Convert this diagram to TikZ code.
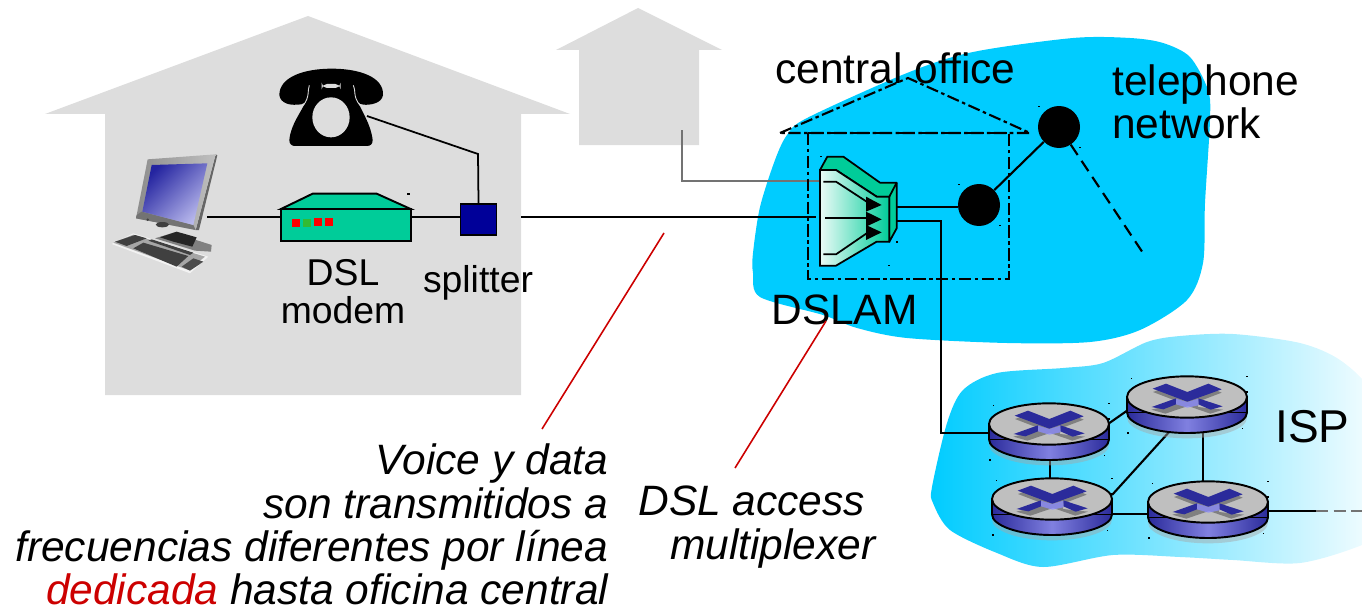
\documentclass[tikz,border=0pt]{standalone}
\usepackage{fontspec}
\setmainfont{Liberation Sans}
\definecolor{cloudblue}{HTML}{00CCFF}
\definecolor{housegray}{HTML}{DDDDDD}
\definecolor{devgreen}{HTML}{00CC99}
\definecolor{redline}{HTML}{CC0000}
\definecolor{splitblue}{HTML}{000099}
\definecolor{xblue}{HTML}{2B2B9B}
\definecolor{xlight}{HTML}{8080E0}
\definecolor{scrdark}{HTML}{2424A0}
\definecolor{scrlight}{HTML}{B8B8EC}
\definecolor{ledgreen}{HTML}{33BB33}
\tikzset{
  x=0.02cm,y=-0.02cm,
  wire/.style={line width=1.2pt,black},
  thinwire/.style={line width=1pt,black},
  dashdot/.style={line width=1.2pt,dash pattern=on 7pt off 2pt on 2pt off 2pt},
  callout/.style={line width=.9pt,redline},
  bigtext/.style={font=\fontsize{24.18}{24.7}\selectfont,inner sep=0pt},
  midtext/.style={font=\fontsize{21.25}{21.4}\selectfont,inner sep=0pt,align=center},
  office/.style={circle,fill=black,minimum size=.84cm,inner sep=0pt},
  router/.pic={
    \begin{scope}[scale=1/3]
      \fill[black!35,opacity=.45] (0,62) ellipse [x radius=180,y radius=62];
      \shade[left color=xblue,right color=xblue,middle color=xlight]
        (-180,0) -- (-180,46) .. controls (-180,80) and (-99,108) .. (0,108)
        .. controls (99,108) and (180,80) .. (180,46) -- (180,0) -- cycle;
      \draw[line width=1.1pt]
        (-180,0) -- (-180,46) .. controls (-180,80) and (-99,108) .. (0,108)
        .. controls (99,108) and (180,80) .. (180,46) -- (180,0);
      \draw[line width=.7pt] (-180,46) -- (180,46);
      \fill[draw=black,line width=1.1pt,fill=black!25] (0,0) ellipse [x radius=180,y radius=62];
      \fill[black!50] (-102,-15) -- (-62,-30) -- (1,-5) -- (64,-30) -- (104,-13) -- (33,14) -- (33,30) -- (108,38) -- (70,50) -- (3,27) -- (-65,50) -- (-107,38) -- (-32,20) -- (-32,12) -- cycle;
      \fill[xblue] (-103,-25) -- (-63,-40) -- (1,-15) -- (64,-40) -- (104,-23) -- (1,14) -- cycle;
      \fill[xblue] (34,4) -- (107,28) -- (71,38) -- (34,22) -- cycle;
      \fill[xblue] (-33,4) -- (-106,30) -- (-71,37) -- (-33,22) -- cycle;
      \fill[blue!45!white,opacity=.75] (-33,5) -- (1,15) -- (34,5) -- (34,25) -- (1,32) -- (-33,22) -- cycle;
      \foreach \dx/\dy in {-167/-55,180/-62,180/-15,-177/58,-177/108,166/95}
        \fill (\dx-2,\dy-2) rectangle (\dx+2,\dy+2);
    \end{scope}
  }
}
\begin{document}
\begin{tikzpicture}
\useasboundingbox (0,0) rectangle (1362,608);
\clip (0,0) rectangle (1362,608);
% clouds
\fill[cloudblue] plot[smooth cycle,tension=.5] coordinates {(753,253) (760,207) (775,160) (787,135) (807,118) (907,73) (973,52) (1073,38) (1130,38) (1163,43) (1190,57) (1208,90) (1210,120) (1205,203) (1203,263) (1187,300) (1140,330) (1090,342) (1007,343) (907,338) (857,328) (823,315) (760,297) (753,273)};
\shade[left color=cloudblue,right color=white] plot[smooth cycle,tension=.5] coordinates {(932,487) (947,423) (963,390) (997,373) (1063,368) (1103,363) (1147,342) (1180,336) (1233,334) (1300,343) (1340,360) (1372,392) (1392,450) (1392,525) (1362,545) (1300,563) (1233,560) (1180,557) (1113,555) (1043,567) (997,553) (950,530) (933,503)};
% houses
\fill[housegray] (45,114) -- (308,16) -- (570,114) -- (521,114) -- (521,395) -- (105,395) -- (105,114) -- cycle;
\fill[housegray] (556,50) -- (638,8) -- (722,50) -- (699,50) -- (699,145) -- (579,145) -- (579,50) -- cycle;
% named points
\coordinate (pcport) at (207,217);
\coordinate (phoneport) at (367,116);
\coordinate (bend) at (478,154);
\coordinate (lineout) at (521,217);
\coordinate (dslamin) at (816,217);
\coordinate (greytop) at (682,130);
\coordinate (greyend) at (822,181);
\coordinate (dslamA) at (897,207);
\coordinate (dslamB) at (897,221);
\coordinate (r1) at (1049,424);
\coordinate (r2) at (1187,397);
\coordinate (r3) at (1052,499);
\coordinate (r4) at (1208,502);
\coordinate (r1in) at (1000,433);
\coordinate (dashend) at (1143,253);
\coordinate (ispout) at (1316,511);
\coordinate (ispend) at (1362,511);
% devices in the house
\node[draw=black,line width=1.1pt,fill=splitblue,minimum width=.72cm,minimum height=.62cm,inner sep=0pt] (splitter) at (478.5,219.5) {};
\node[draw=black,line width=1.1pt,fill=devgreen,minimum width=2.6cm,minimum height=.63cm,inner sep=0pt] (modem) at (346,225) {};
\node[office] (co1) at (979,205) {};
\node[office] (co2) at (1059,127) {};
\begin{scope}[shift={(100,60)},scale=1/3]
  % modem top and lights
  \fill[devgreen,draw=black,line width=1.1pt] (543,447) -- (638,401) -- (830,401) -- (932,447) -- cycle;
  \fill[red] (577,477) rectangle (600,500);
  \fill[ledgreen] (610,477) rectangle (634,500);
  \fill[red] (642,474) rectangle (666,497);
  \fill[red] (676,474) rectangle (700,497);
  \fill (921,399) rectangle (930,404);
\end{scope}
% telephone
\begin{scope}[shift={(270,60)},scale=1/3]
  \fill[black] (28,105) .. controls (28,52) and (100,26) .. (185,26) .. controls (270,26) and (342,52) .. (339,105) .. controls (336,130) and (300,136) .. (280,134) .. controls (265,132) and (258,122) .. (250,110) -- (118,110) .. controls (110,125) and (100,136) .. (80,134) .. controls (60,136) and (31,130) .. (28,105) -- cycle;
  \fill[black] (120,100) -- (252,100) .. controls (277,160) and (302,190) .. (308,240) .. controls (308,252) and (302,258) .. (290,258) -- (75,258) .. controls (65,258) and (58,252) .. (58,240) .. controls (63,190) and (93,160) .. (120,100) -- cycle;
  \fill[housegray] (183,172) ellipse [x radius=56,y radius=60];
  \fill[housegray,rounded corners=3pt] (155,72) rectangle (212,84);
  \draw[housegray,line width=.5pt] (118,76) .. controls (112,90) and (120,110) .. (100,136);
  \draw[housegray,line width=.5pt] (250,76) .. controls (258,90) and (248,110) .. (270,136);
\end{scope}
% computer
\begin{scope}[shift={(105,150)},scale=1/3]
  % base and stand
  \fill[black!50] (150,265) -- (205,248) -- (320,285) -- (318,305) -- (270,302) -- cycle;
  \fill[black!85] (165,262) -- (215,245) -- (275,262) -- (262,290) -- (205,275) -- cycle;
  % monitor
  \fill[black!60] (332,13) -- (337,16) -- (282,240) -- (272,240) -- cycle;
  \shade[left color=black!45,right color=black!25] (128,28) -- (332,13) -- (272,240) -- (93,205) -- cycle;
  \fill[black!55] (95,195) -- (110,185) -- (265,225) -- (272,240) -- (93,205) -- cycle;
  \shade[top color=scrdark,bottom color=scrlight,shading angle=45] (140,45) -- (307,40) -- (265,225) -- (112,185) -- cycle;
  \fill[black!75] (172,224) ellipse [x radius=20,y radius=8];
  \fill[black!75] (128,209) circle [radius=4];
  % keyboard
  \fill[black!5] (20,282) -- (85,250) -- (310,320) -- (255,370) -- cycle;
  \fill[black!35] (25,278) -- (85,254) -- (300,320) -- (250,360) -- cycle;
  \fill[black!75] (30,275) -- (90,255) -- (125,265) -- (65,288) -- cycle;
  \fill[black!75] (85,295) -- (115,278) -- (250,318) -- (215,350) -- cycle;
  \fill[black!75] (130,272) -- (140,268) -- (265,308) -- (255,315) -- cycle;
  \fill[black!70] (230,350) -- (265,325) -- (295,335) -- (255,362) -- cycle;
\end{scope}
% wires
\draw[wire] (pcport) -- (modem.west |- pcport);
\draw[wire] (modem.east |- pcport) -- (splitter.west |- pcport);
\draw[thinwire] (phoneport) -- (bend) -- (splitter.north);
\draw[wire] (lineout) -- (dslamin);
\draw[line width=1pt,black!55] (greytop) |- (greyend);
% central office outline
\coordinate (roofL) at (780,133);
\coordinate (roofT) at (908,78);
\coordinate (roofR) at (1030,133);
\draw[dashdot] (roofL) -- (roofT) -- (roofR) -- cycle;
\draw[dashdot] (808,133) rectangle (1009,279);
% DSLAM
\begin{scope}[shift={(770,70)},scale=1/3]
  \fill[devgreen,draw=black,line width=1pt,line join=round] (150,300) -- (172,260) -- (220,260) -- (330,338) -- (380,338) -- (380,475) -- (358,515) -- (358,380) -- (320,380) -- (198,300) -- cycle;
  \shade[left color=devgreen!8,right color=devgreen] (150,300) -- (198,300) -- (320,380) -- (358,380) -- (358,515) -- (320,515) -- (198,587) -- (150,587) -- cycle;
  \draw[line width=1pt] (150,300) -- (198,300) -- (320,380) -- (358,380) -- (358,515) -- (320,515) -- (198,587) -- (150,587) -- cycle;
  \draw[line width=1pt] (358,380) -- (380,338);
  \draw[line width=1pt] (160,335) -- (198,335) -- (290,395);
  \draw[line width=1pt] (165,445) -- (290,445);
  \draw[line width=1pt] (160,553) -- (198,553) -- (290,490);
  \fill (288,380) -- (335,405) -- (288,425) -- cycle;
  \fill (288,425) -- (335,448) -- (288,470) -- cycle;
  \fill (288,465) -- (335,487) -- (288,510) -- cycle;
  \foreach \dx/\dy in {152/260,568/344,690/467,382/516,358/586,808/110,930/232}
    \fill (\dx-3,\dy-2) rectangle (\dx+3,\dy+2);
\end{scope}
\draw[wire] (dslamA) -- (co1.west |- dslamA);
\draw[wire] (co1) -- (co2);
\draw[wire,dash pattern=on 7pt off 4pt] (co2) -- (dashend);
\draw[wire] (dslamB) -- ++(44,0) |- (r1in);
% ISP links
\coordinate (l12a) at (1108,424);
\coordinate (l12b) at (1128,410);
\coordinate (l32a) at (1112,495);
\coordinate (l32b) at (1170,431);
\draw[wire] (l12a) -- (l12b);
\draw[wire] (r1 -| 1050,0) -- (r3 -| 1050,0);
\draw[wire] (l32a) -- (l32b);
\draw[wire] (1052,514) -- (1208,514);
\draw[wire] (1203,397) -- (1203,502);
\draw[wire] (1208,511) -- (ispout);
\draw[line width=1.2pt,black!55,dash pattern=on 7pt off 3pt] (ispout) -- (ispend);
\pic at (r1) {router};
\pic at (r2) {router};
\pic at (r3) {router};
\pic at (r4) {router};
% labels
\node[bigtext,anchor=base west] (lcentral) at (775,84) {central office};
\node[bigtext,anchor=north west,align=left] (ltel) at (1112,64) {telephone\\network};
\node[bigtext,anchor=base west] (ldslam) at (771,324) {DSLAM};
\node[midtext,anchor=north] (lmodem) at (343,259) {DSL\\modem};
\node[midtext,anchor=base] (lsplit) at (478,292) {splitter};
\node[inner sep=0pt,anchor=base west,font=\fontsize{26.2}{26.2}\selectfont] (lisp) at (1275,442) {ISP};
\node[bigtext,anchor=north east,align=right,font=\fontsize{24.18}{24.7}\selectfont\itshape] (lvoice) at (608.5,443.5) {Voice y data\\son transmitidos a\\frecuencias diferentes por línea\\\textcolor{redline}{dedicada} hasta oficina central};
\node[bigtext,anchor=north west,align=left,font=\fontsize{24.18}{25.6}\selectfont\itshape] (ldsl) at (638,485) {DSL access\\\hspace*{.75em}multiplexer};
\coordinate (c1a) at (664,233);
\coordinate (c1b) at (542,429);
\coordinate (c2a) at (826,321);
\coordinate (c2b) at (735,468);
\draw[callout] (c1a) -- (c1b);
\draw[callout] (c2a) -- (c2b);
\end{tikzpicture}
\end{document}
